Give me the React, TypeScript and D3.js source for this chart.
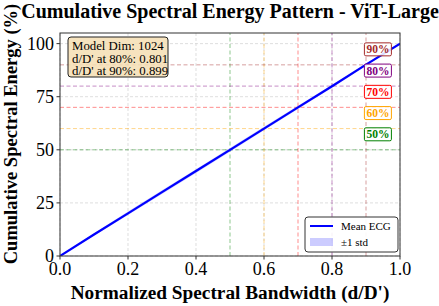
import React from "react";
import * as d3 from "d3";

const bandwidth = [0, 0.1, 0.2, 0.3, 0.4, 0.5, 0.6, 0.7, 0.8, 0.9, 1.0];
const meanEnergy = [0, 10.1, 20.1, 30.1, 40.0, 50.0, 60.0, 70.0, 79.9, 90.1, 100];
const stdEnergy = [0, 0.6, 0.8, 0.9, 0.9, 0.9, 0.8, 0.8, 0.7, 0.5, 0];

const thresholds = [50, 60, 70, 80, 90];
const crossings = [0.5, 0.6, 0.7, 0.8, 0.9];
const thresholdColors = ["green", "orange", "red", "purple", "brown"];

const xTicks = [0, 0.2, 0.4, 0.6, 0.8, 1.0];
const yTicks = [0, 25, 50, 75, 100];

const infoLines = ["Model Dim: 1024", "d/D' at 80%: 0.801", "d/D' at 90%: 0.899"];

const W = 439;
const H = 306;
const margin = { top: 33, right: 39, bottom: 50, left: 60 };
const font = "'Liberation Serif', 'Times New Roman', serif";

export default function App() {
  const x = d3.scaleLinear().domain([0, 1]).range([margin.left, W - margin.right]);
  const y = d3.scaleLinear().domain([0, 105]).range([H - margin.bottom, margin.top]);

  const pts = bandwidth.map((b, i) => ({ b, m: meanEnergy[i], s: stdEnergy[i] }));
  const line = d3.line<any>().x((d) => x(d.b)).y((d) => y(d.m));
  const area = d3
    .area<any>()
    .x((d) => x(d.b))
    .y0((d) => y(d.m - d.s))
    .y1((d) => y(d.m + d.s));

  const [x0, x1] = x.range();
  const [y0, y1] = y.range();

  return (
    <svg
      width={W}
      height={H}
      style={{ position: "absolute", left: 0, top: 0, background: "white" }}
      fontFamily={font}
    >
      <defs>
        <clipPath id="plot">
          <rect x={x0} y={y1} width={x1 - x0} height={y0 - y1} />
        </clipPath>
      </defs>

      {/* grid */}
      {xTicks.map((t) => (
        <line key={"gx" + t} x1={x(t)} x2={x(t)} y1={y0} y2={y1} stroke="#d0d0d0" strokeWidth={0.7} strokeDasharray="3,2" />
      ))}
      {yTicks.map((t) => (
        <line key={"gy" + t} x1={x0} x2={x1} y1={y(t)} y2={y(t)} stroke="#d0d0d0" strokeWidth={0.7} strokeDasharray="3,2" />
      ))}

      {/* threshold lines */}
      <g clipPath="url(#plot)">
        {thresholds.map((t, i) => (
          <g key={"th" + t}>
            <line x1={x0} x2={x1} y1={y(t)} y2={y(t)} stroke={thresholdColors[i]} strokeOpacity={0.45} strokeWidth={1} strokeDasharray="4,2.5" />
            <line x1={x(crossings[i])} x2={x(crossings[i])} y1={y0} y2={y1} stroke={thresholdColors[i]} strokeOpacity={0.45} strokeWidth={1} strokeDasharray="4,2.5" />
          </g>
        ))}
        <path d={area(pts) || ""} fill="blue" fillOpacity={0.2} />
        <path d={line(pts) || ""} fill="none" stroke="blue" strokeWidth={2.2} />
      </g>

      {/* threshold labels */}
      {thresholds.map((t, i) => (
        <g key={"lb" + t} transform={`translate(${x(0.935)},${y(t + 7.3)})`}>
          <rect x={-13.5} y={-6.5} width={27} height={13} fill="white" fillOpacity={0.85} stroke={thresholdColors[i]} strokeWidth={1} rx={1.5} />
          <text textAnchor="middle" dy="0.35em" fontSize={11.5} fontWeight="bold" fill={thresholdColors[i]}>
            {t}%
          </text>
        </g>
      ))}

      {/* frame */}
      <rect x={x0} y={y1} width={x1 - x0} height={y0 - y1} fill="none" stroke="#333" strokeWidth={1} />

      {/* ticks */}
      {xTicks.map((t) => (
        <g key={"tx" + t}>
          <line x1={x(t)} x2={x(t)} y1={y0} y2={y0 + 3.5} stroke="#333" />
          <text x={x(t)} y={y0 + 19} textAnchor="middle" fontSize={18}>
            {d3.format(".1f")(t)}
          </text>
        </g>
      ))}
      {yTicks.map((t) => (
        <g key={"ty" + t}>
          <line x1={x0} x2={x0 - 3.5} y1={y(t)} y2={y(t)} stroke="#333" />
          <text x={x0 - 6} y={y(t)} dy="0.35em" textAnchor="end" fontSize={18}>
            {t}
          </text>
        </g>
      ))}

      {/* info box */}
      <g>
        <rect x={68} y={37} width={100} height={40} rx={3} fill="wheat" fillOpacity={0.85} stroke="#222" strokeWidth={1} />
        {infoLines.map((l, i) => (
          <text key={l} x={72} y={50 + i * 12.5} fontSize={12.8}>
            {l}
          </text>
        ))}
      </g>

      {/* legend */}
      <g>
        <rect x={305} y={217} width={93} height={35} rx={3} fill="white" fillOpacity={0.9} stroke="#333" strokeWidth={1} />
        <line x1={310} x2={333} y1={226} y2={226} stroke="blue" strokeWidth={2} />
        <text x={341} y={226} dy="0.35em" fontSize={11}>Mean ECG</text>
        <rect x={310} y={238} width={23} height={8} fill="blue" fillOpacity={0.2} />
        <text x={341} y={242} dy="0.35em" fontSize={11}>±1 std</text>
      </g>

      {/* titles */}
      <text x={230} y={18} textAnchor="middle" fontSize={20} fontWeight="bold">
        Cumulative Spectral Energy Pattern - ViT-Large
      </text>
      <text x={(x0 + x1) / 2} y={299} textAnchor="middle" fontSize={19.3} fontWeight="bold">
        Normalized Spectral Bandwidth (d/D')
      </text>
      <text
        transform={`translate(17,134) rotate(-90)`}
        textAnchor="middle"
        fontSize={18.5}
        fontWeight="bold"
      >
        Cumulative Spectral Energy (%)
      </text>
    </svg>
  );
}
